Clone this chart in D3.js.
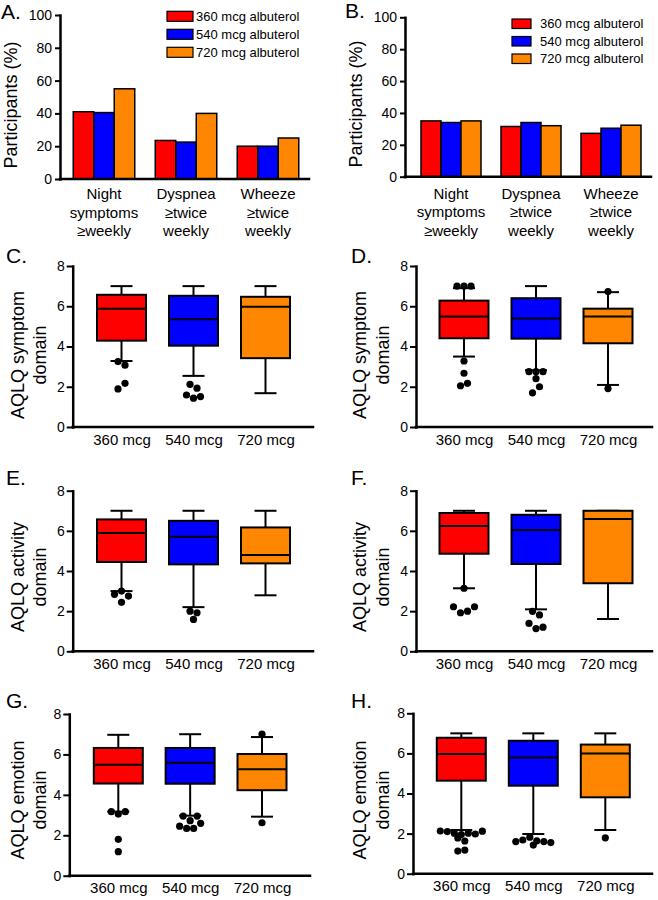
<!DOCTYPE html>
<html><head><meta charset="utf-8">
<script src="https://cdn.jsdelivr.net/npm/d3@7"></script>
<style>
body{margin:0;background:#fff}
svg{display:block}
text{font-family:"Liberation Sans",Arial,Helvetica,sans-serif;fill:#000}
</style>
</head><body>
<svg id="chart" width="658" height="900"></svg>
<script>
// ---------- DATA ----------
const doses = ["360 mcg albuterol", "540 mcg albuterol", "720 mcg albuterol"];
const doseColors = ["#ff0000", "#0000ff", "#ff8600"];
const barCategories = ["Night symptoms ≥weekly", "Dyspnea ≥twice weekly", "Wheeze ≥twice weekly"];
const barCategoryLines = [["Night", "symptoms", "≥weekly"], ["Dyspnea", "≥twice", "weekly"], ["Wheeze", "≥twice", "weekly"]];
const barTicks = [0, 20, 40, 60, 80, 100];
// rows: categories; columns: 360 / 540 / 720 mcg
const panelAValues = [[41, 40.5, 55], [23.5, 22.5, 40], [20, 20, 25]];
const panelBValues = [[35, 34, 35], [31.5, 34, 32], [27.2, 30.4, 32.3]];

const boxGroups = ["360 mcg", "540 mcg", "720 mcg"];
const boxTicks = [0, 2, 4, 6, 8];
// each box: [lower whisker, Q1, median, Q3, upper whisker]
const boxC = [[3.28, 4.29, 5.87, 6.57, 7], [2.54, 4.04, 5.36, 6.52, 7], [1.68, 3.42, 5.98, 6.47, 7]];
const outC = [[3.25, 3.07, 1.89, 2.17], [2.12, 1.93, 1.59, 1.43, 1.51], []];
const boxD = [[3.5, 4.41, 5.49, 6.28, 6.9], [2.82, 4.39, 5.39, 6.4, 7], [2.09, 4.16, 5.49, 5.88, 6.7]];
const outD = [[7, 7, 7, 3.28, 2.67, 2.05, 2.17], [2.75, 2.75, 2.75, 2.4, 1.7, 2.0], [6.73, 1.91]];
const boxE = [[3.0, 4.45, 5.89, 6.57, 7], [2.2, 4.33, 5.71, 6.5, 7], [2.79, 4.38, 4.8, 6.17, 7]];
const outE = [[2.84, 3.0, 2.75, 2.44], [2.0, 1.92, 1.59], []];
const boxF = [[3.14, 4.86, 6.24, 6.89, 7], [2.09, 4.35, 6.04, 6.8, 7], [1.61, 3.39, 6.59, 7, 7]];
const outF = [[3.14, 2.22, 1.92, 2.0, 2.22], [1.99, 1.81, 1.39, 1.13, 1.2], []];
const boxG = [[3.17, 4.56, 5.49, 6.32, 6.97], [2.97, 4.55, 5.59, 6.32, 7], [2.92, 4.23, 5.27, 6.02, 6.86]];
const outG = [[3.17, 3.05, 3.17, 1.8, 1.19], [2.95, 2.72, 2.95, 2.45, 2.34, 2.34, 2.59], [7.0, 2.62]];
const boxH = [[2.18, 4.64, 5.97, 6.78, 7], [1.98, 4.39, 5.79, 6.63, 7], [2.18, 3.81, 5.99, 6.44, 7]];
const outH = [[2.13, 2.1, 2.02, 1.95, 2.02, 1.98, 2.12, 1.78, 1.63, 1.13, 1.18], [1.6, 1.68, 1.82, 1.43, 1.64, 1.6, 1.55], [1.79]];

// ---------- DRAWING ----------
const svg = d3.select("#chart");
const FONT = '"Liberation Sans",Arial,Helvetica,sans-serif';

function styleAxis(g, size) {
  g.attr("font-family", FONT).attr("font-size", size);
  g.selectAll("path.domain").attr("stroke", "#000").attr("stroke-width", 2.5).attr("stroke-linecap", "square");
  g.selectAll(".tick line").attr("stroke", "#000").attr("stroke-width", 2);
  g.selectAll(".tick text").attr("fill", "#000");
}

function letter(t, x, y) {
  svg.append("text").attr("x", x).attr("y", y).attr("font-size", 21).text(t);
}

function yTitle(lines, xs, cy) {
  lines.forEach((ln, i) => {
    svg.append("text")
      .attr("transform", `translate(${xs[i]},${cy}) rotate(-90)`)
      .attr("text-anchor", "middle").attr("font-size", 18).text(ln);
  });
}

function drawBarPanel(values, cfg) {
  const g = svg.append("g");
  const y = d3.scaleLinear().domain([0, 100]).range([cfg.yBot, cfg.yTop]);
  const x = d3.scaleBand().domain(barCategories).range(cfg.band).paddingInner(0.25).paddingOuter(0.125);
  const xs = d3.scaleBand().domain(doses).range([0, x.bandwidth()]);

  // bars
  barCategories.forEach((c, ci) => {
    g.selectAll(null).data(values[ci]).enter().append("rect")
      .attr("x", (d, i) => x(c) + xs(doses[i]))
      .attr("y", d => y(d))
      .attr("width", xs.bandwidth())
      .attr("height", d => y(0) - y(d))
      .attr("fill", (d, i) => doseColors[i])
      .attr("stroke", "#000").attr("stroke-width", 1.5);
  });

  // x axis line + labels
  g.append("line").attr("x1", cfg.x0).attr("x2", cfg.x1).attr("y1", cfg.yBot).attr("y2", cfg.yBot)
    .attr("stroke", "#000").attr("stroke-width", 2.5).attr("stroke-linecap", "square");
  const xa = g.append("g").attr("transform", `translate(0,${cfg.yBot})`)
    .call(d3.axisBottom(x).tickSize(0));
  xa.select(".domain").remove();
  xa.attr("font-family", FONT).attr("font-size", 15);
  xa.selectAll(".tick text").attr("fill", "#000").attr("dy", null).attr("y", null).text(null)
    .each(function (d) {
      const lines = barCategoryLines[barCategories.indexOf(d)];
      const t = d3.select(this);
      lines.forEach((ln, i) => t.append("tspan").attr("x", 0).attr("y", cfg.labelY + i * 18.5).text(ln));
    });

  // y axis
  const ya = g.append("g").attr("transform", `translate(${cfg.x0},0)`)
    .call(d3.axisLeft(y).tickValues(barTicks).tickSize(5).tickSizeOuter(0).tickPadding(3));
  styleAxis(ya, 14);

  // legend
  doses.forEach((d, i) => {
    const yy = cfg.leg.y + i * cfg.leg.pitch;
    g.append("rect").attr("x", cfg.leg.x).attr("y", yy).attr("width", cfg.leg.w).attr("height", cfg.leg.h)
      .attr("fill", doseColors[i]).attr("stroke", "#000").attr("stroke-width", 1.2);
    g.append("text").attr("x", cfg.leg.tx).attr("y", yy + cfg.leg.h - 0.3).attr("font-size", 13).text(d);
  });

  yTitle(["Participants (%)"], [cfg.titleX], cfg.titleY);
  letter(cfg.letter, cfg.lx, cfg.ly);
}

function swarm(vals, y, spacing, thresh) {
  // group points with near-equal values into horizontal rows (Prism-style scatter)
  const idx = vals.map((v, i) => i).sort((a, b) => vals[b] - vals[a] || a - b);
  const off = new Array(vals.length).fill(0);
  let row = [];
  const flush = () => {
    row.sort((a, b) => a - b);
    row.forEach((k, j) => { off[k] = (j - (row.length - 1) / 2) * spacing; });
    row = [];
  };
  idx.forEach(k => {
    if (row.length && Math.abs(y(vals[k]) - y(vals[row[0]])) >= thresh) flush();
    row.push(k);
  });
  if (row.length) flush();
  return off;
}

function drawBoxPanel(boxes, outs, cfg) {
  const g = svg.append("g");
  const y = d3.scaleLinear().domain([0, 8]).range([cfg.yBot, cfg.yTop]);
  const x = d3.scalePoint().domain(boxGroups).range(cfg.pts);
  const bw = 49, cw = 22;

  boxGroups.forEach((grp, i) => {
    const [lo, q1, med, q3, hi] = boxes[i];
    const cx = x(grp);
    const ln = (x1, y1, x2, y2) => g.append("line").attr("x1", x1).attr("y1", y1).attr("x2", x2).attr("y2", y2)
      .attr("stroke", "#000").attr("stroke-width", 2);
    ln(cx, y(q3), cx, y(hi));
    ln(cx, y(q1), cx, y(lo));
    ln(cx - cw / 2, y(hi), cx + cw / 2, y(hi));
    ln(cx - cw / 2, y(lo), cx + cw / 2, y(lo));
    g.append("rect").attr("x", cx - bw / 2).attr("y", y(q3)).attr("width", bw).attr("height", y(q1) - y(q3))
      .attr("fill", doseColors[i]).attr("stroke", "#000").attr("stroke-width", 2);
    ln(cx - bw / 2, y(med), cx + bw / 2, y(med));

    const off = swarm(outs[i], y, 7, 6.5);
    g.selectAll(null).data(outs[i]).enter().append("circle")
      .attr("cx", (d, k) => cx + off[k]).attr("cy", d => y(d)).attr("r", 3.6).attr("fill", "#000");
  });

  g.append("line").attr("x1", cfg.x0).attr("x2", cfg.x1).attr("y1", cfg.yBot).attr("y2", cfg.yBot)
    .attr("stroke", "#000").attr("stroke-width", 2.5).attr("stroke-linecap", "square");
  const xa = g.append("g").attr("transform", `translate(0,${cfg.yBot})`)
    .call(d3.axisBottom(x).tickSize(0).tickPadding(7));
  xa.select(".domain").remove();
  xa.attr("font-family", FONT).attr("font-size", 15);
  xa.selectAll(".tick text").attr("fill", "#000");

  const ya = g.append("g").attr("transform", `translate(${cfg.x0},0)`)
    .call(d3.axisLeft(y).tickValues(boxTicks).tickSize(6).tickSizeOuter(0).tickPadding(2));
  styleAxis(ya, 14);

  yTitle([cfg.title, "domain"], cfg.titleXs, cfg.titleY);
  letter(cfg.letter, cfg.lx, cfg.ly);
}

drawBarPanel(panelAValues, {
  x0: 60, x1: 309, yTop: 15, yBot: 179, band: [63, 309], labelY: 20,
  leg: { x: 167, y: 11.3, pitch: 18, w: 26, h: 10, tx: 196 },
  titleX: 17, titleY: 105, letter: "A.", lx: 1, ly: 19
});
drawBarPanel(panelBValues, {
  x0: 405, x1: 651, yTop: 17.3, yBot: 176.7, band: [411, 651], labelY: 22.3,
  leg: { x: 512, y: 19, pitch: 17.5, w: 19, h: 9.5, tx: 540 },
  titleX: 362, titleY: 104, letter: "B.", lx: 345, ly: 18
});

const leftT = [24, 45.5], rightT = [366, 389];
drawBoxPanel(boxC, outC, { x0: 72.7, x1: 313, yTop: 266, yBot: 427, pts: [121.5, 265.5],
  title: "AQLQ symptom", titleXs: leftT, titleY: 355, letter: "C.", lx: 6, ly: 263 });
drawBoxPanel(boxD, outD, { x0: 416, x1: 652, yTop: 266, yBot: 427, pts: [464, 608],
  title: "AQLQ symptom", titleXs: rightT, titleY: 355, letter: "D.", lx: 351, ly: 263 });
drawBoxPanel(boxE, outE, { x0: 72.7, x1: 313, yTop: 490.7, yBot: 651.3, pts: [121.5, 265.5],
  title: "AQLQ activity", titleXs: leftT, titleY: 577, letter: "E.", lx: 6, ly: 485 });
drawBoxPanel(boxF, outF, { x0: 416, x1: 652, yTop: 490.7, yBot: 651.3, pts: [464, 608],
  title: "AQLQ activity", titleXs: rightT, titleY: 577, letter: "F.", lx: 351, ly: 485 });
drawBoxPanel(boxG, outG, { x0: 69.3, x1: 310, yTop: 714, yBot: 875.7, pts: [118.3, 262],
  title: "AQLQ emotion", titleXs: leftT, titleY: 800, letter: "G.", lx: 6, ly: 708 });
drawBoxPanel(boxH, outH, { x0: 413, x1: 652, yTop: 713.3, yBot: 873.7, pts: [461.3, 605.3],
  title: "AQLQ emotion", titleXs: rightT, titleY: 800, letter: "H.", lx: 351, ly: 708 });
</script>
</body></html>
